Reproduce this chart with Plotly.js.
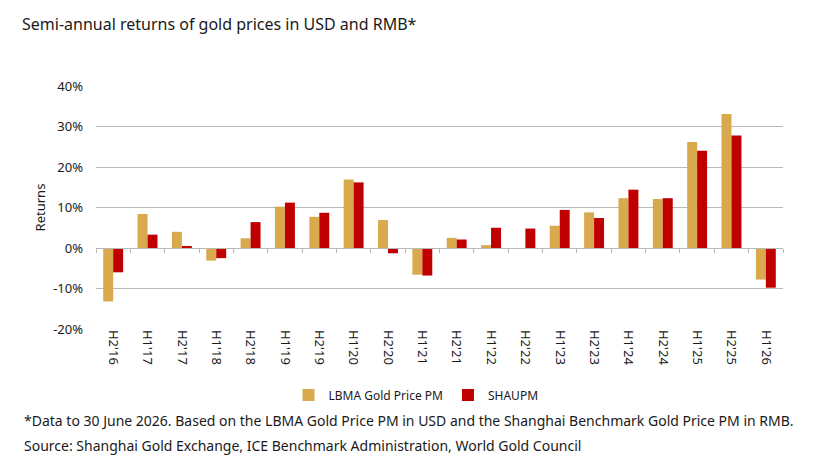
<!DOCTYPE html>
<html>
<head>
<meta charset="utf-8">
<script src="https://cdn.plot.ly/plotly-3.0.1.min.js"></script>
<style>
  html, body { margin: 0; padding: 0; background: #fff; }
  #chart { width: 829px; height: 476px; }
</style>
</head>
<body>
<div id="chart"></div>
<script>
// Half-year periods
const periods = ["H2'16", "H1'17", "H2'17", "H1'18", "H2'18", "H1'19", "H2'19", "H1'20", "H2'20", "H1'21",
                 "H2'21", "H1'22", "H2'22", "H1'23", "H2'23", "H1'24", "H2'24", "H1'25", "H2'25", "H1'26"];

// Semi-annual returns, %
const lbmaReturns = [-13.2, 8.4, 4.0, -3.1, 2.4, 10.2, 7.7, 16.9, 6.9, -6.6,
                     2.5, 0.7, -0.2, 5.5, 8.8, 12.3, 12.1, 26.2, 33.1, -7.8];
const shaupmReturns = [-6.0, 3.3, 0.5, -2.5, 6.4, 11.2, 8.7, 16.2, -1.3, -6.8,
                       2.1, 5.0, 4.8, 9.4, 7.4, 14.4, 12.3, 24.0, 27.8, -9.8];

const yTicks = [-20, -10, 0, 10, 20, 30, 40];
const yTickText = yTicks.map(v => v + '%');

const FONT = '"Noto Sans", "Open Sans", sans-serif';
const TEXT = '#1a1a1a';
const GRID = '#b8b8b8';

const traces = [
  { type: 'bar', name: 'LBMA Gold Price PM', x: periods, y: lbmaReturns,
    marker: { color: '#D9A94E' }, hoverinfo: 'x+y' },
  { type: 'bar', name: 'SHAUPM', x: periods, y: shaupmReturns,
    marker: { color: '#C00000' }, hoverinfo: 'x+y' },
  // invisible carrier so the overlay axis along 0% is drawn
  { type: 'bar', x: periods, y: periods.map(() => null), xaxis: 'x2',
    showlegend: false, hoverinfo: 'skip', marker: { color: 'rgba(0,0,0,0)' } }
];

const yMin = -20, yMax = 40;

const layout = {
  width: 829, height: 476,
  margin: { l: 96, r: 46, t: 86, b: 147 },
  paper_bgcolor: '#ffffff', plot_bgcolor: '#ffffff',
  font: { family: FONT, size: 13, color: TEXT },
  barmode: 'group', bargap: 0.42, bargroupgap: 0,
  title: {
    text: 'Semi-annual returns of gold prices in USD and RMB*',
    font: { family: FONT, size: 16, color: TEXT },
    xref: 'container', x: 22 / 829, xanchor: 'left',
    yref: 'container', y: 1 - 24 / 476, yanchor: 'middle'
  },
  xaxis: {
    type: 'category', categoryorder: 'array', categoryarray: periods,
    range: [-0.5, periods.length - 0.5],
    tickangle: 90, showgrid: false, showline: false, zeroline: false,
    ticks: '', ticklen: 0,
    tickfont: { family: FONT, size: 13, color: TEXT },
    automargin: false
  },
  // category boundary ticks along the 0% line
  xaxis2: {
    matches: 'x', overlaying: 'x', anchor: 'free',
    position: (0 - yMin) / (yMax - yMin),
    type: 'category', showline: true, linecolor: GRID, linewidth: 1,
    ticks: 'outside', tickson: 'boundaries', ticklen: 4, tickcolor: GRID, tickwidth: 1,
    showticklabels: false, showgrid: false, zeroline: false
  },
  yaxis: {
    range: [yMin, yMax], tickvals: yTicks, ticktext: yTickText,
    showgrid: true, gridcolor: GRID, gridwidth: 1,
    zeroline: false, showline: false, ticks: '',
    ticklabelstandoff: 12,
    tickfont: { family: FONT, size: 13, color: TEXT },
    title: { text: 'Returns', font: { family: FONT, size: 13, color: TEXT }, standoff: 4 },
    automargin: false
  },
  showlegend: true,
  legend: {
    orientation: 'h', x: (416 - 96) / 687, xanchor: 'center', xref: 'paper',
    y: 1 - 395 / 476, yref: 'container', yanchor: 'middle',
    font: { family: FONT, size: 12, color: TEXT },
    itemwidth: 30, traceorder: 'normal', bgcolor: 'rgba(0,0,0,0)'
  },
  annotations: [
    { text: '*Data to 30 June 2026. Based on the LBMA Gold Price PM in USD and the Shanghai Benchmark Gold Price PM in RMB.',
      xref: 'paper', yref: 'paper', x: -74 / 687, y: -(420 - 329) / 243,
      xanchor: 'left', yanchor: 'middle', showarrow: false,
      font: { family: FONT, size: 14, color: TEXT } },
    { text: 'Source: Shanghai Gold Exchange, ICE Benchmark Administration, World Gold Council',
      xref: 'paper', yref: 'paper', x: -74 / 687, y: -(445 - 329) / 243,
      xanchor: 'left', yanchor: 'middle', showarrow: false,
      font: { family: FONT, size: 14, color: TEXT } }
  ]
};

Plotly.newPlot('chart', traces, layout, { displayModeBar: false, staticPlot: true });
</script>
</body>
</html>
